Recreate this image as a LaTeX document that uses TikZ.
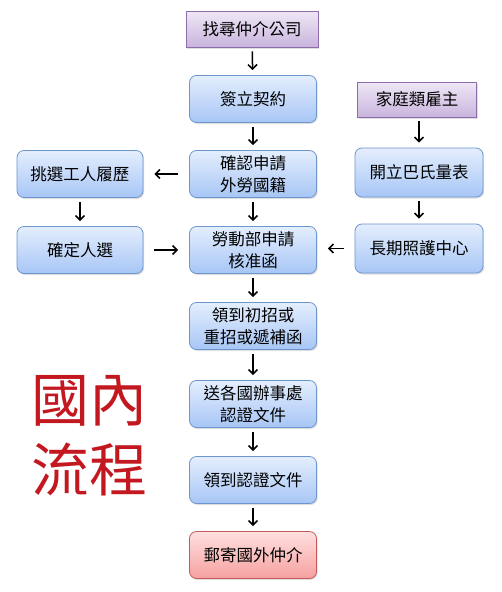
\documentclass[tikz,border=0pt]{standalone}
\usepackage{fontspec}
\newfontfamily\cjk{Noto Sans CJK TC}
\usetikzlibrary{arrows.meta,shadows}
\definecolor{bluetop}{HTML}{E4EEFD}
\definecolor{bluebot}{HTML}{A7C6F6}
\definecolor{blueline}{HTML}{6E96CE}
\definecolor{purtop}{HTML}{EFE7F6}
\definecolor{purbot}{HTML}{C9B4DD}
\definecolor{purline}{HTML}{8C6DAA}
\definecolor{redtop}{HTML}{FFE0E0}
\definecolor{redbot}{HTML}{F6A0A0}
\definecolor{redline}{HTML}{C65A5A}
\definecolor{bigred}{HTML}{C41820}
\tikzset{
  box/.style={draw=blueline, line width=0.8pt, rounded corners=7pt, top color=bluetop, bottom color=bluebot,
    minimum width=127pt, minimum height=47pt, align=center, font=\cjk\fontsize{16.5}{21.5}\selectfont,
    drop shadow={shadow xshift=1.2pt, shadow yshift=-1.5pt, opacity=0.25}},
  pbox/.style={draw=purline, line width=0.8pt, top color=purtop, bottom color=purbot,
    minimum height=36pt, align=center, font=\cjk\fontsize{16.5}{21.5}\selectfont,
    drop shadow={shadow xshift=1.2pt, shadow yshift=-1.5pt, opacity=0.25}},
  rbox/.style={box, draw=redline, top color=redtop, bottom color=redbot},
  arr/.style={line width=1.5pt, -{Straight Barb[length=4.5pt,width=9pt,line width=1.5pt]}},
  varr/.style={arr, shorten <=4pt, shorten >=5pt},
  harr/.style={arr, shorten <=11pt, shorten >=11pt},
}
\begin{document}
\begin{tikzpicture}[x=1pt,y=-1pt]
\useasboundingbox[fill=white] (0,0) rectangle (501,592);
\node[pbox, minimum width=132pt] (n1) at (252,29) {找尋仲介公司};
\node[box] (n2) at (253,99) {簽立契約};
\node[box] (n3) at (253,174) {確認申請\\外勞國籍};
\node[box] (n4) at (253,250) {勞動部申請\\核准函};
\node[box] (n5) at (253,326) {領到初招或\\重招或遞補函};
\node[box] (n6) at (253,404) {送各國辦事處\\認證文件};
\node[box] (n7) at (253,480) {領到認證文件};
\node[rbox] (n8) at (253,555) {郵寄國外仲介};
\node[box, minimum width=126pt] (l1) at (80,174) {挑選工人履歷};
\node[box, minimum width=126pt] (l2) at (80,250) {確定人選};
\node[pbox, minimum width=119pt, minimum height=35pt] (r0) at (417,99.5) {家庭類雇主};
\node[box, minimum width=128pt, minimum height=49pt] (r1) at (419,172.5) {開立巴氏量表};
\node[box, minimum width=128pt, minimum height=49pt] (r2) at (419,248.5) {長期照護中心};
\draw[varr] (n1) -- (n2);
\draw[varr] (n2) -- (n3);
\draw[varr] (n3) -- (n4);
\draw[varr] (n4) -- (n5);
\draw[varr] (n5) -- (n6);
\draw[varr] (n6) -- (n7);
\draw[varr] (n7) -- (n8);
\draw[varr] (l1) -- (l2);
\draw[varr] (r0.south -| r1.north) -- (r1);
\draw[varr] (r1) -- (r2);
\draw[harr] (n3) -- (l1);
\draw[harr] (l2) -- (n4);
\draw[harr] (r2.west) -- (r2.west -| n4.east);
\node[text=bigred, font=\cjk\fontsize{58}{70}\selectfont, align=left] (big) at (89,436) {國內\\流程};
\end{tikzpicture}
\end{document}
